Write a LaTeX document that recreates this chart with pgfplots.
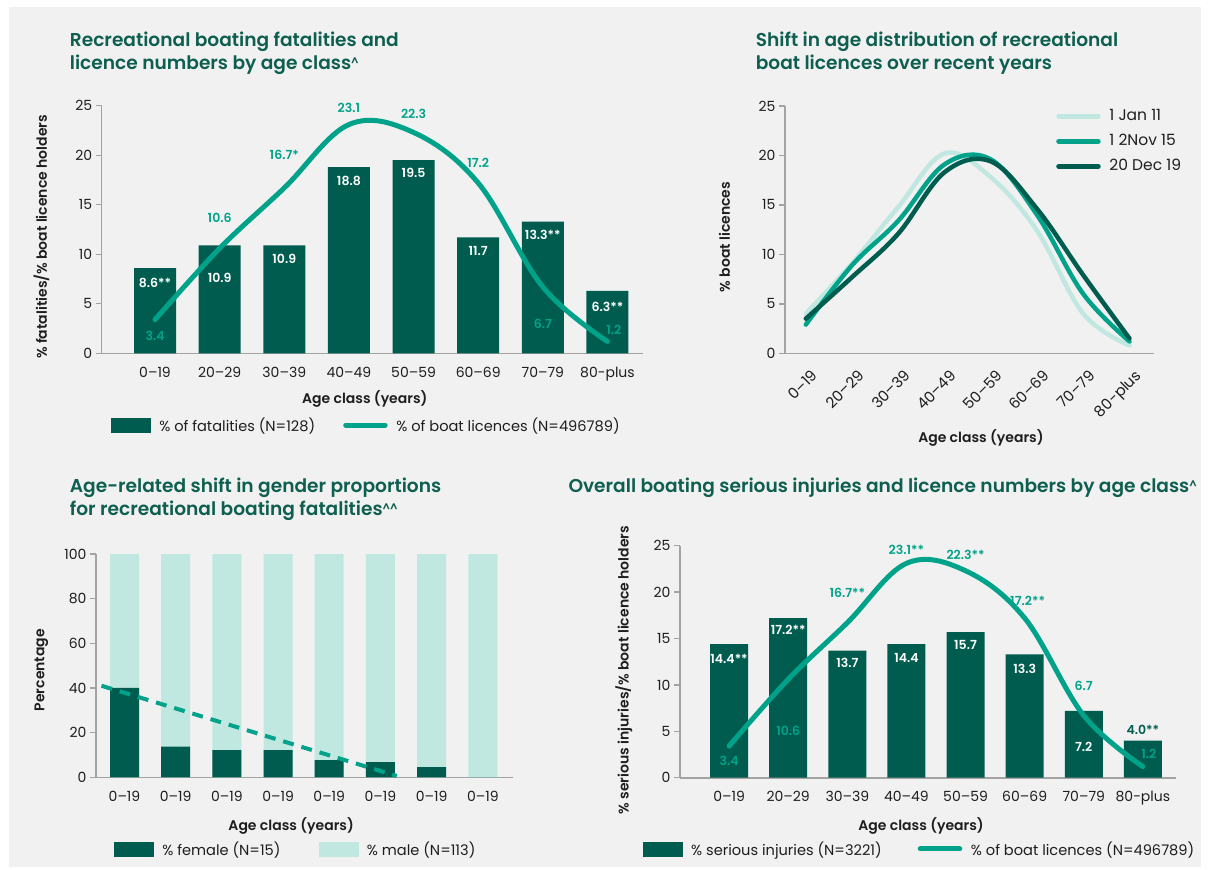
\documentclass[border=0pt]{standalone}
\usepackage{fontspec}
\setmainfont{Poppins}[BoldFont={Poppins SemiBold}]
\usepackage{pgfplots}
\usepackage{pgfplotstable}
\pgfplotsset{compat=1.18}

\definecolor{bg}{HTML}{F1F1F1}
\definecolor{dk}{HTML}{005C4F}
\definecolor{tl}{HTML}{00A38A}
\definecolor{lt}{HTML}{C0E8E1}
\definecolor{ax}{HTML}{A3A3A3}
\definecolor{ttl}{HTML}{0E5F50}
\definecolor{ink}{HTML}{1E1E1E}

\newcommand\tickf{\fontsize{14}{14}\selectfont}
\newcommand\labf{\fontsize{14}{14}\selectfont\bfseries}
\newcommand\titf{\fontsize{18.6}{22}\selectfont\bfseries}
\newcommand\valf{\fontsize{12.5}{13}\selectfont\bfseries}
\newcommand\legf{\fontsize{14.6}{15}\selectfont}
\newcommand\caret{{\fontsize{11}{11}\selectfont\raisebox{4pt}{\textasciicircum}}}

% licences and fatalities by age class
\pgfplotstableread{
x fat lic
0 8.6 3.4
1 10.9 10.6
2 10.9 16.7
3 18.8 23.1
4 19.5 22.3
5 11.7 17.2
6 13.3 6.7
7 6.3 1.2
}\tabA
% licence distribution, three dates
\pgfplotstableread{
x a b c
0 4.0 2.9 3.5
1 9.1 8.9 7.7
2 14.8 13.4 12.1
3 20.2 19.1 18.3
4 17.8 19.6 19.4
5 12.4 14.0 14.6
6 4.0 6.0 7.9
7 0.8 1.2 1.5
}\tabB
% gender split of fatalities
\pgfplotstableread{
x fem mal
0 40 60
1 13.7 86.3
2 12.2 87.8
3 12.2 87.8
4 7.7 92.3
5 6.8 93.2
6 4.6 95.4
7 0 100
}\tabC
% serious injuries and licences
\pgfplotstableread{
x inj lic
0 14.4 3.4
1 17.2 10.6
2 13.7 16.7
3 14.4 23.1
4 15.7 22.3
5 13.3 17.2
6 7.2 6.7
7 4.0 1.2
}\tabD

\tikzset{wv/.style={font=\valf, text=white}, tv/.style={font=\valf, text=tl}}
\pgfplotsset{
 base/.style={scale only axis, anchor=south west, axis x line*=bottom, axis y line*=left,
  axis line style={draw=ax, line width=1.6pt, -},
  tick align=outside, major tick length=6pt,
  ytick style={draw=ax, line width=1.4pt}, xtick style={draw=none},
  tick label style={font=\tickf, text=ink},
  xticklabel style={yshift=-4pt},
  /pgf/number format/assume math mode=true,
  label style={font=\labf, text=ink},
  xlabel style={anchor=center}, ylabel style={anchor=center},
  ymin=0, xtick={0,...,7}, clip=false,
  legend style={draw=none, fill=none, font=\legf, text=ink, inner sep=0pt, outer sep=0pt},
  legend cell align=left},
 ages/.style={xticklabels={0--19,20--29,30--39,40--49,50--59,60--69,70--79,80-plus}},
 dkbox/.style={legend image code/.code={\fill[dk] (0pt,-7pt) rectangle (39pt,7pt);\path (46pt,0pt);}},
 ltbox/.style={legend image code/.code={\fill[lt] (0pt,-7pt) rectangle (39pt,7pt);\path (46pt,0pt);}},
 lnlt/.style={legend image code/.code={\draw[lt,line width=5pt,line cap=round] (2.5pt,0pt) -- (42pt,0pt);\path (51pt,0pt);}},
 lntl/.style={legend image code/.code={\draw[tl,line width=5pt,line cap=round] (2.5pt,0pt) -- (42pt,0pt);\path (51pt,0pt);}},
 lndk/.style={legend image code/.code={\draw[dk,line width=5pt,line cap=round] (2.5pt,0pt) -- (42pt,0pt);\path (51pt,0pt);}},
}

\begin{document}
\begin{tikzpicture}
\useasboundingbox (0pt,0pt) rectangle (1210pt,-870pt);
\fill[white] (0pt,0pt) rectangle (1210pt,-870pt);
\fill[bg] (9pt,-7pt) rectangle (1201pt,-867pt);

\node[anchor=base west, inner sep=0pt, text=ttl, font=\titf] at (69.7pt,-46.7pt) {Recreational boating fatalities and};
\node[anchor=base west, inner sep=0pt, text=ttl, font=\titf] at (69.7pt,-69.3pt) {licence numbers by age class\caret};
\node[anchor=base west, inner sep=0pt, text=ttl, font=\titf] at (755.6pt,-46.7pt) {Shift in age distribution of recreational};
\node[anchor=base west, inner sep=0pt, text=ttl, font=\titf] at (755.6pt,-69.3pt) {boat licences over recent years};
\node[anchor=base west, inner sep=0pt, text=ttl, font=\titf] at (69.7pt,-492.7pt) {Age-related shift in gender proportions};
\node[anchor=base west, inner sep=0pt, text=ttl, font=\titf] at (69.7pt,-515pt) {for recreational boating fatalities\caret\caret};
\node[anchor=base west, inner sep=0pt, text=ttl, font=\titf] at (568.3pt,-492.7pt) {Overall boating serious injuries and licence numbers by age class\caret};

% top left
\begin{axis}[base, ages, at={(101.7pt,-353.3pt)}, width=541.3pt, height=247.6pt,
  xmin=-0.825, xmax=7.55, ymax=25, ytick={0,5,...,25},
  xlabel={Age class (years)}, ylabel={\% fatalities/\% boat licence holders},
  xlabel style={at={(axis description cs:0.486,-0.185)}},
  ylabel style={at={(axis description cs:-0.111,0.47)}},
  legend columns=2,
  legend style={at={(axis description cs:0.017,-0.29)}, anchor=west,
    /tikz/every even column/.append style={column sep=26pt}}]
\addlegendimage{dkbox}\addlegendentry{\% of fatalities (N=128)}
\addlegendimage{lntl}\addlegendentry{\% of boat licences (N=496789)}
\addplot[ybar, bar width=42pt, bar shift=0pt, fill=dk, draw=none, forget plot] table[x=x,y=fat]{\tabA};
\addplot[tl, line width=5pt, line cap=round, smooth, tension=0.6, forget plot] table[x=x,y=lic]{\tabA};
\node[wv] at (axis cs:0,7.1) {8.6**};
\node[wv] at (axis cs:1,7.6) {10.9};
\node[wv] at (axis cs:2,9.5) {10.9};
\node[wv] at (axis cs:3,17.4) {18.8};
\node[wv] at (axis cs:4,18.2) {19.5};
\node[wv] at (axis cs:5,10.3) {11.7};
\node[wv] at (axis cs:6,12.0) {13.3**};
\node[wv] at (axis cs:7,4.7) {6.3**};
\node[tv] at (axis cs:0,1.8) {3.4};
\node[tv] at (axis cs:1,13.7) {10.6};
\node[tv] at (axis cs:2,20.0) {16.7*};
\node[tv] at (axis cs:3,24.8) {23.1};
\node[tv] at (axis cs:4,24.2) {22.3};
\node[tv] at (axis cs:5,19.2) {17.2};
\node[tv] at (axis cs:6,3.0) {6.7};
\node[tv] at (axis cs:7.1,2.4) {1.2};
\end{axis}

% top right
\begin{axis}[base, ages, at={(785pt,-353.3pt)}, width=369pt, height=247.3pt,
  xmin=-0.45, xmax=7.53, ymax=25, ytick={0,5,...,25},
  xticklabel style={rotate=45, anchor=north east, font=\fontsize{15}{15}\selectfont, xshift=3pt, yshift=-4pt},
  xlabel={Age class (years)}, ylabel={\% boat licences},
  xlabel style={at={(axis description cs:0.531,-0.343)}},
  ylabel style={at={(axis description cs:-0.164,0.47)}},
  legend style={at={(axis description cs:0.735,0.995)}, anchor=north west,
    font=\fontsize{15.5}{15.5}\selectfont,
    nodes={text height=11pt, text depth=3pt}, row sep=7pt}]
\addlegendimage{lnlt}\addlegendentry{1 Jan 11}
\addlegendimage{lntl}\addlegendentry{1 2Nov 15}
\addlegendimage{lndk}\addlegendentry{20 Dec 19}
\addplot[lt, line width=4.5pt, line cap=round, smooth, tension=0.6, forget plot] table[x=x,y=a]{\tabB};
\addplot[tl, line width=4.5pt, line cap=round, smooth, tension=0.6, forget plot] table[x=x,y=b]{\tabB};
\addplot[dk, line width=4.5pt, line cap=round, smooth, tension=0.6, forget plot] table[x=x,y=c]{\tabB};
\end{axis}

% bottom left
\begin{axis}[base, at={(96pt,-777.3pt)}, width=417pt, height=223.3pt,
  xmin=-0.557, xmax=7.59, ymax=100, ytick={0,20,...,100},
  xticklabels={0--19,0--19,0--19,0--19,0--19,0--19,0--19,0--19},
  xlabel={Age class (years)}, ylabel={Percentage},
  xlabel style={at={(axis description cs:0.468,-0.218)}},
  ylabel style={at={(axis description cs:-0.131,0.48)}},
  legend columns=2,
  legend style={at={(axis description cs:0.043,-0.323)}, anchor=west,
    /tikz/every even column/.append style={column sep=36pt}}]
\addlegendimage{dkbox}\addlegendentry{\% female (N=15)}
\addlegendimage{ltbox}\addlegendentry{\% male (N=113)}
\addplot[ybar, bar width=29pt, bar shift=0pt, fill=lt, draw=none, forget plot] table[x=x,y expr=\thisrow{fem}+\thisrow{mal}]{\tabC};
\addplot[ybar, bar width=29pt, bar shift=0pt, fill=dk, draw=none, forget plot] table[x=x,y=fem]{\tabC};
\addplot[tl, line width=4pt, dash pattern=on 11pt off 8pt, forget plot] coordinates {(-0.45,41) (5.32,0.6)};
\end{axis}

% bottom right
\begin{axis}[base, ages, at={(680pt,-777.7pt)}, width=496pt, height=232pt,
  xmin=-0.83, xmax=7.56, ymax=25, ytick={0,5,...,25},
  xlabel={Age class (years)}, ylabel={\% serious injuries/\% boat licence holders},
  xlabel style={at={(axis description cs:0.486,-0.208)}},
  ylabel style={at={(axis description cs:-0.113,0.464)}},
  legend columns=2,
  legend style={at={(axis description cs:-0.075,-0.307)}, anchor=west,
    /tikz/every even column/.append style={column sep=34pt}}]
\addlegendimage{dkbox}\addlegendentry{\% serious injuries (N=3221)}
\addlegendimage{lntl}\addlegendentry{\% of boat licences (N=496789)}
\addplot[ybar, bar width=38pt, bar shift=0pt, fill=dk, draw=none, forget plot] table[x=x,y=inj]{\tabD};
\addplot[tl, line width=5pt, line cap=round, smooth, tension=0.6, forget plot] table[x=x,y=lic]{\tabD};
\node[wv] at (axis cs:0,12.8) {14.4**};
\node[wv] at (axis cs:1,15.9) {17.2**};
\node[wv] at (axis cs:2,12.4) {13.7};
\node[wv] at (axis cs:3,12.9) {14.4};
\node[wv] at (axis cs:4,14.3) {15.7};
\node[wv] at (axis cs:5,11.7) {13.3};
\node[wv] at (axis cs:6,3.3) {7.2};
\node[font=\valf, text=dk] at (axis cs:7,5.1) {4.0**};
\node[tv] at (axis cs:0,1.8) {3.4};
\node[tv] at (axis cs:1,5.0) {10.6};
\node[tv] at (axis cs:2,19.9) {16.7**};
\node[tv] at (axis cs:3,24.6) {23.1**};
\node[tv] at (axis cs:4,24.0) {22.3**};
\node[tv] at (axis cs:5.05,19.1) {17.2**};
\node[tv] at (axis cs:6,9.9) {6.7};
\node[tv] at (axis cs:7.1,2.6) {1.2};
\end{axis}
\end{tikzpicture}
\end{document}
